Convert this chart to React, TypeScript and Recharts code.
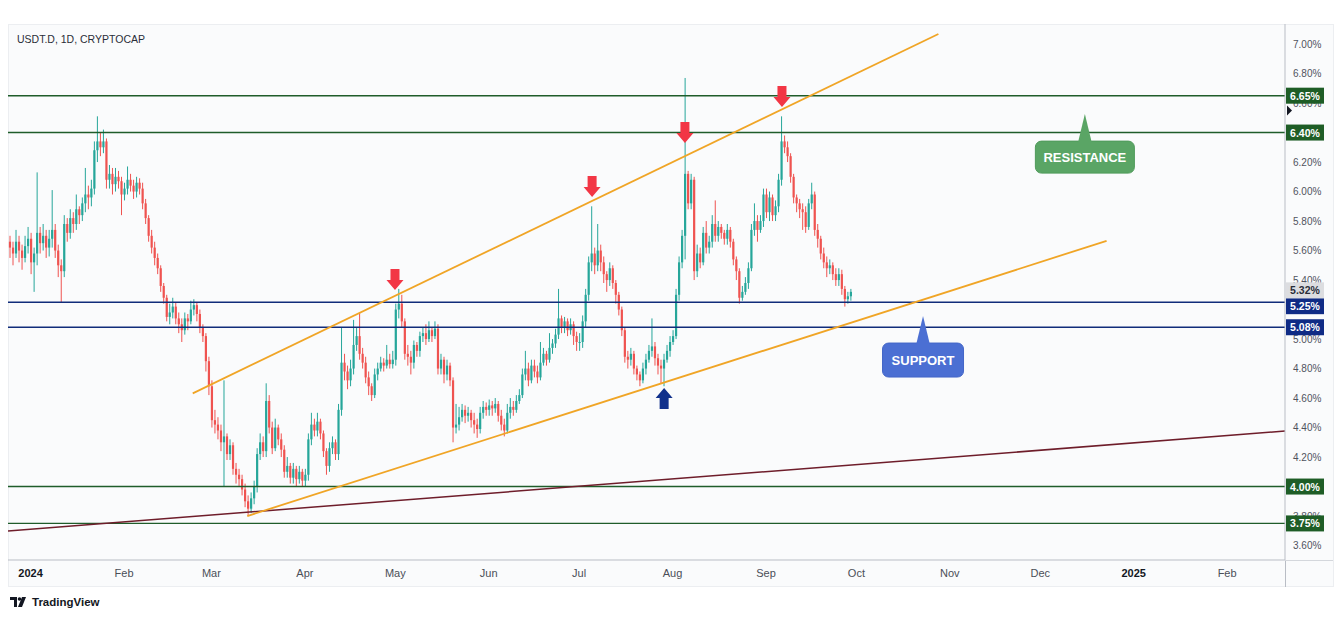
import React from 'react';
import { ComposedChart, Bar, XAxis, YAxis, ReferenceLine, ReferenceDot } from 'recharts';

// USDT.D daily candles, one row per month (first row starts 25 Dec 2023)
const monthStarts = ['2023-12-25', '2024-01-01', '2024-02-01', '2024-03-01', '2024-04-01', '2024-05-01', '2024-06-01', '2024-07-01', '2024-08-01', '2024-09-01'];
const firstOpen = 5.66;

const closes = [
  [5.62, 5.58, 5.66, 5.60, 5.55, 5.63, 5.68],
  [5.52, 5.58, 5.72, 5.65, 5.70, 5.62, 5.68, 5.74, 5.60, 5.50, 5.46, 5.78, 5.72, 5.82, 5.78, 5.88, 5.84, 5.92, 5.98, 5.96, 6.02, 6.28, 6.34, 6.30, 6.34, 6.08, 6.12, 6.05, 6.10, 6.07, 5.98],
  [6.02, 6.08, 6.04, 6.00, 6.06, 6.02, 5.92, 5.82, 5.70, 5.62, 5.55, 5.48, 5.36, 5.28, 5.15, 5.18, 5.22, 5.14, 5.10, 5.06, 5.14, 5.12, 5.20, 5.23, 5.17, 5.08, 5.02, 4.85, 4.68],
  [4.45, 4.42, 4.38, 4.30, 4.34, 4.22, 4.28, 4.12, 4.08, 4.05, 3.98, 3.90, 3.85, 3.92, 4.00, 4.22, 4.30, 4.24, 4.58, 4.40, 4.26, 4.40, 4.32, 4.25, 4.10, 4.14, 4.06, 4.12, 4.05, 4.10, 4.04],
  [4.08, 4.32, 4.42, 4.38, 4.44, 4.36, 4.24, 4.14, 4.26, 4.30, 4.22, 4.52, 4.84, 4.78, 4.72, 4.80, 4.96, 5.02, 4.90, 4.84, 4.74, 4.68, 4.62, 4.76, 4.80, 4.84, 4.82, 4.86, 4.83, 4.86],
  [5.20, 5.24, 5.12, 4.90, 4.88, 4.84, 4.96, 4.92, 5.02, 5.04, 5.00, 5.06, 5.02, 5.07, 4.80, 4.86, 4.76, 4.82, 4.72, 4.40, 4.42, 4.47, 4.52, 4.48, 4.50, 4.45, 4.42, 4.39, 4.50, 4.54, 4.52],
  [4.55, 4.53, 4.56, 4.48, 4.42, 4.38, 4.50, 4.54, 4.52, 4.58, 4.62, 4.76, 4.80, 4.72, 4.82, 4.78, 4.74, 4.84, 4.90, 4.86, 4.94, 4.97, 5.03, 5.14, 5.08, 5.12, 5.06, 5.10, 5.02, 4.98],
  [4.98, 5.12, 5.30, 5.52, 5.58, 5.50, 5.60, 5.52, 5.44, 5.40, 5.48, 5.38, 5.30, 5.20, 5.06, 4.88, 4.86, 4.90, 4.80, 4.76, 4.72, 4.80, 4.86, 4.92, 4.95, 4.87, 4.82, 4.80, 4.86, 4.92, 4.98],
  [5.02, 5.30, 5.52, 5.70, 6.12, 5.92, 6.08, 5.46, 5.58, 5.52, 5.72, 5.62, 5.66, 5.78, 5.70, 5.76, 5.72, 5.68, 5.74, 5.66, 5.54, 5.46, 5.28, 5.32, 5.38, 5.48, 5.74, 5.80, 5.74, 5.80, 5.98],
  [5.86, 5.96, 5.84, 5.90, 6.08, 6.34, 6.30, 6.24, 6.10, 5.96, 5.92, 5.88, 5.86, 5.76, 5.92, 5.98, 5.74, 5.68, 5.58, 5.52, 5.48, 5.50, 5.44, 5.40, 5.44, 5.34, 5.27, 5.29, 5.32],
];

const highs = [
  [5.70, 5.66, 5.74, 5.70, 5.64, 5.70, 5.76],
  [5.72, 5.62, 6.13, 5.76, 5.78, 5.74, 5.74, 6.01, 5.78, 5.64, 5.54, 5.84, 5.82, 5.88, 5.86, 5.98, 5.90, 5.96, 6.16, 6.04, 6.08, 6.34, 6.51, 6.40, 6.42, 6.36, 6.18, 6.16, 6.16, 6.14, 6.10],
  [6.06, 6.17, 6.12, 6.08, 6.10, 6.09, 6.06, 5.95, 5.84, 5.74, 5.66, 5.58, 5.50, 5.38, 5.30, 5.24, 5.28, 5.25, 5.18, 5.14, 5.18, 5.17, 5.26, 5.27, 5.25, 5.20, 5.10, 5.04, 4.88],
  [4.72, 4.52, 4.47, 4.42, 4.72, 4.36, 4.32, 4.30, 4.16, 4.12, 4.08, 4.02, 3.94, 3.96, 4.04, 4.26, 4.36, 4.34, 4.70, 4.62, 4.44, 4.46, 4.42, 4.36, 4.28, 4.20, 4.16, 4.16, 4.14, 4.14, 4.12],
  [4.12, 4.36, 4.50, 4.46, 4.50, 4.46, 4.38, 4.26, 4.30, 4.34, 4.32, 4.56, 5.08, 4.90, 4.82, 4.86, 5.13, 5.08, 5.18, 4.94, 4.88, 4.78, 4.70, 4.80, 4.84, 4.88, 4.87, 4.96, 4.90, 4.92],
  [5.24, 5.34, 5.30, 5.14, 4.96, 4.92, 4.99, 4.98, 5.05, 5.08, 5.10, 5.12, 5.08, 5.12, 5.10, 4.90, 4.88, 4.86, 4.84, 4.74, 4.56, 4.54, 4.56, 4.55, 4.54, 4.52, 4.50, 4.46, 4.54, 4.58, 4.57],
  [4.59, 4.58, 4.60, 4.58, 4.52, 4.46, 4.56, 4.60, 4.58, 4.62, 4.66, 4.80, 4.92, 4.84, 4.86, 4.86, 4.82, 4.98, 4.94, 4.92, 5.04, 5.00, 5.07, 5.34, 5.16, 5.15, 5.14, 5.14, 5.12, 5.05],
  [5.04, 5.16, 5.34, 5.56, 5.90, 5.62, 5.78, 5.64, 5.56, 5.46, 5.52, 5.50, 5.40, 5.32, 5.22, 5.08, 4.92, 4.94, 4.92, 4.82, 4.78, 4.84, 4.90, 4.96, 5.14, 4.98, 4.90, 4.86, 4.90, 4.96, 5.02],
  [5.06, 5.34, 5.56, 5.74, 6.77, 6.14, 6.12, 6.10, 5.64, 5.62, 5.76, 5.80, 5.70, 5.84, 5.94, 5.80, 5.78, 5.74, 5.78, 5.76, 5.68, 5.56, 5.48, 5.36, 5.42, 5.52, 5.78, 5.92, 5.84, 5.84, 6.02],
  [6.02, 6.00, 5.98, 5.94, 6.12, 6.51, 6.38, 6.34, 6.26, 6.12, 5.98, 5.95, 5.92, 5.90, 5.95, 6.06, 6.00, 5.78, 5.70, 5.62, 5.56, 5.54, 5.52, 5.48, 5.48, 5.47, 5.36, 5.32, 5.34],
];

const lows = [
  [5.55, 5.50, 5.55, 5.52, 5.47, 5.52, 5.58],
  [5.44, 5.32, 5.50, 5.58, 5.60, 5.55, 5.56, 5.62, 5.55, 5.42, 5.25, 5.42, 5.66, 5.68, 5.72, 5.74, 5.78, 5.80, 5.86, 5.88, 5.90, 5.98, 6.20, 6.24, 6.26, 6.02, 6.02, 5.98, 6.00, 6.02, 5.84],
  [5.94, 5.98, 6.00, 5.95, 5.96, 5.98, 5.88, 5.78, 5.66, 5.58, 5.50, 5.44, 5.32, 5.24, 5.12, 5.10, 5.14, 5.10, 5.04, 4.98, 5.03, 5.06, 5.10, 5.16, 5.12, 5.04, 4.98, 4.78, 4.62],
  [4.40, 4.36, 4.32, 4.24, 4.00, 4.18, 4.18, 4.08, 4.02, 4.00, 3.94, 3.86, 3.80, 3.82, 3.88, 3.96, 4.18, 4.20, 4.20, 4.36, 4.22, 4.24, 4.28, 4.20, 4.06, 4.06, 4.02, 4.02, 4.00, 4.02, 4.00],
  [4.00, 4.04, 4.28, 4.34, 4.34, 4.32, 4.20, 4.08, 4.10, 4.22, 4.18, 4.18, 4.48, 4.72, 4.66, 4.68, 4.76, 4.92, 4.86, 4.80, 4.70, 4.62, 4.58, 4.60, 4.72, 4.78, 4.78, 4.80, 4.80, 4.80],
  [4.82, 5.14, 5.08, 4.86, 4.82, 4.76, 4.80, 4.88, 4.88, 4.98, 4.96, 4.98, 4.98, 5.00, 4.76, 4.76, 4.70, 4.72, 4.68, 4.30, 4.36, 4.38, 4.44, 4.43, 4.44, 4.40, 4.36, 4.33, 4.36, 4.46, 4.48],
  [4.48, 4.48, 4.50, 4.44, 4.38, 4.34, 4.36, 4.46, 4.48, 4.50, 4.56, 4.60, 4.72, 4.68, 4.70, 4.74, 4.70, 4.72, 4.82, 4.82, 4.84, 4.90, 4.94, 5.00, 5.04, 5.04, 5.02, 5.03, 4.96, 4.92],
  [4.92, 4.94, 5.08, 5.26, 5.46, 5.44, 5.46, 5.46, 5.38, 5.32, 5.36, 5.34, 5.24, 5.16, 5.02, 4.84, 4.80, 4.82, 4.76, 4.72, 4.68, 4.70, 4.76, 4.84, 4.88, 4.82, 4.76, 4.70, 4.68, 4.84, 4.88],
  [4.96, 5.00, 5.26, 5.48, 5.54, 5.88, 5.88, 5.40, 5.42, 5.48, 5.50, 5.58, 5.58, 5.62, 5.66, 5.66, 5.68, 5.64, 5.64, 5.62, 5.50, 5.40, 5.24, 5.26, 5.30, 5.34, 5.46, 5.70, 5.66, 5.72, 5.76],
  [5.82, 5.80, 5.80, 5.80, 5.86, 6.04, 6.26, 6.20, 6.06, 5.92, 5.86, 5.82, 5.74, 5.72, 5.74, 5.88, 5.70, 5.62, 5.54, 5.48, 5.42, 5.44, 5.40, 5.36, 5.36, 5.30, 5.22, 5.24, 5.26],
];

// time axis: days counted from 1 Jan 2024
const tickDays = [0, 31, 60, 91, 121, 152, 182, 213, 244, 274, 305, 335, 366, 397];
const tickLabels = ['2024', 'Feb', 'Mar', 'Apr', 'May', 'Jun', 'Jul', 'Aug', 'Sep', 'Oct', 'Nov', 'Dec', '2025', 'Feb'];
// price scale labels that stay visible next to the level tags
const priceTicks = [3.6, 3.8, 4.2, 4.4, 4.6, 4.8, 5.0, 5.4, 5.6, 5.8, 6.0, 6.2, 6.6, 6.8, 7.0];

const resistanceLevels = [6.65, 6.4, 4.0, 3.75];
const supportLevels = [5.25, 5.08];
const lastPrice = 5.32;
const markerPrice = 6.55;

// drawn lines: [day, price] endpoints
const upperChannel = [[53.8, 4.632], [301.2, 7.068]];
const lowerChannel = [[71.9, 3.8], [357.0, 5.666]];
const longTrend = [[-7.5, 3.699], [416.2, 4.376]];

// annotations: [day, price] of the tip
const downArrows = [[120.9, 5.332], [186.3, 5.963], [217.1, 6.329], [249.3, 6.573]];
const upArrows = [[210.2, 4.668]];
const resistanceCallout = [349.8, 6.525];
const supportCallout = [296.1, 5.156];

const UP = '#26a69a';
const DOWN = '#ef5350';
const GREEN_LINE = '#1f5c2a';
const NAVY_LINE = '#102c7a';
const FONT = "'Liberation Sans', Arial, sans-serif";

const DAY = 86400000;
const base = Date.UTC(2024, 0, 1);
const rows: any[] = [];
let prevClose = firstOpen;
monthStarts.forEach((s, m) => {
  const t0 = Math.round((Date.parse(s) - base) / DAY);
  closes[m].forEach((c, j) => {
    const hi = Math.max(highs[m][j] ?? c, prevClose, c);
    const lo = Math.min(lows[m][j] ?? c, prevClose, c);
    rows.push({ t: t0 + j, open: prevClose, close: c, high: hi, low: lo, range: [lo, hi] });
    prevClose = c;
  });
});

// tags drawn after the plain labels so they sit on top of them
const tagStyle: Record<string, { bg: string; fg: string; nudge: number }> = {};
resistanceLevels.forEach((v) => (tagStyle[v.toFixed(2)] = { bg: '#1e5d26', fg: '#fff', nudge: 0 }));
supportLevels.forEach((v) => (tagStyle[v.toFixed(2)] = { bg: '#0f2b85', fg: '#fff', nudge: 0 }));
tagStyle['5.25'].nudge = 4; // pushed down like TradingView does when tags collide
tagStyle[lastPrice.toFixed(2)] = { bg: '#dcdde0', fg: '#2a2e39', nudge: -1.5 };
const yTicks = [...priceTicks, markerPrice, ...supportLevels, ...resistanceLevels, lastPrice];

function Candle(props: any) {
  const { x, y, width, height, payload } = props;
  if (!payload || y == null || height == null) return null;
  const { open, close, high, low } = payload;
  const span = high - low || 1e-9;
  const py = (v: number) => y + ((high - v) / span) * height;
  const cx = x + width / 2;
  const color = close >= open ? UP : DOWN;
  const top = py(Math.max(open, close));
  const bot = py(Math.min(open, close));
  return (
    <g>
      <line x1={cx} x2={cx} y1={py(high)} y2={py(low)} stroke={color} strokeWidth={1} />
      <rect x={cx - 1.1} y={top} width={2.2} height={Math.max(1, bot - top)} fill={color} />
    </g>
  );
}

function YTick(props: any) {
  const { x, y, payload } = props;
  const v = payload.value as number;
  const axisX = x - 8;
  if (v === markerPrice) {
    return <path d={`M${axisX + 2},${y - 5} L${axisX + 7},${y} L${axisX + 2},${y + 5} Z`} fill="#131722" />;
  }
  const key = v.toFixed(2);
  const tag = priceTicks.includes(v) ? undefined : tagStyle[key];
  if (tag) {
    const cy = y + tag.nudge;
    return (
      <g>
        <rect x={axisX + 1} y={cy - 8} width={38} height={16} fill={tag.bg} />
        <text x={axisX + 20} y={cy + 4} textAnchor="middle" fill={tag.fg} fontSize={10.5} fontWeight={700} fontFamily={FONT}>
          {`${key}%`}
        </text>
      </g>
    );
  }
  return (
    <text x={axisX + 8} y={y + 3.5} fontSize={10} fill="#50535e" fontFamily={FONT}>
      {`${key}%`}
    </text>
  );
}

function ArrowShape(props: any) {
  const { cx, cy, dir, color } = props;
  const s = dir === 'down' ? -1 : 1;
  const head = 10;
  const total = 21;
  const d = [
    `M${cx},${cy}`,
    `L${cx + 8.5},${cy + s * head}`,
    `L${cx + 4.5},${cy + s * head}`,
    `L${cx + 4.5},${cy + s * total}`,
    `L${cx - 4.5},${cy + s * total}`,
    `L${cx - 4.5},${cy + s * head}`,
    `L${cx - 8.5},${cy + s * head}`,
    'Z',
  ].join(' ');
  return <path d={d} fill={color} />;
}

function CalloutShape(props: any) {
  const { cx, cy, text, fill, stroke, w, h } = props;
  const gap = 27;
  const top = cy + gap;
  return (
    <g>
      <rect x={cx - w / 2} y={top} width={w} height={h} rx={6} fill={fill} stroke={stroke} strokeWidth={1} />
      <path d={`M${cx},${cy} L${cx + 7},${top + 2} L${cx - 7},${top + 2} Z`} fill={fill} />
      <text x={cx} y={top + h / 2 + 4.5} textAnchor="middle" fill="#fff" fontSize={13} fontWeight={700}
        fontFamily="'Liberation Sans Narrow', 'Liberation Sans', Arial, sans-serif">
        {text}
      </text>
    </g>
  );
}

function XTick(props: any) {
  const { x, y, payload } = props;
  const i = tickDays.indexOf(payload.value);
  const label = tickLabels[i] ?? '';
  const bold = /^\d{4}$/.test(label);
  return (
    <text x={x} y={y + 9} textAnchor="middle" fontSize={11} fontWeight={bold ? 700 : 400}
      fill={bold ? '#131722' : '#4a4e57'} fontFamily={FONT}>
      {label}
    </text>
  );
}

export default function App() {
  return (
    <div style={{ position: 'absolute', left: 0, top: 0, width: 1343, height: 619, background: '#fff', overflow: 'hidden' }}>
      <div style={{ position: 'absolute', left: 8, top: 24, width: 1326, height: 563, background: '#fafbfc', border: '1px solid #eceef1', boxSizing: 'border-box' }} />
      <div style={{ position: 'absolute', left: 8, top: 24 }}>
        <ComposedChart width={1326} height={563} data={rows} margin={{ top: 0, right: 0, bottom: 0, left: 0 }}>
          <XAxis dataKey="t" type="number" domain={[-7.5, 416.2]} allowDataOverflow ticks={tickDays}
            tick={<XTick />} tickLine={false} axisLine={{ stroke: '#b9bdc5' }} height={27} interval={0} />
          <YAxis orientation="right" type="number" domain={[3.502, 7.136]} allowDataOverflow ticks={yTicks}
            tick={<YTick />} tickLine={false} axisLine={{ stroke: '#b9bdc5' }} width={49} interval={0} />

          {resistanceLevels.map((v) => (
            <ReferenceLine key={`r${v}`} y={v} stroke={GREEN_LINE} strokeWidth={1.4} ifOverflow="visible" />
          ))}
          {supportLevels.map((v) => (
            <ReferenceLine key={`s${v}`} y={v} stroke={NAVY_LINE} strokeWidth={1.4} ifOverflow="visible" />
          ))}

          <ReferenceLine segment={[{ x: longTrend[0][0], y: longTrend[0][1] }, { x: longTrend[1][0], y: longTrend[1][1] }]}
            stroke="#6e1d2a" strokeWidth={1.5} ifOverflow="visible" />
          <ReferenceLine segment={[{ x: upperChannel[0][0], y: upperChannel[0][1] }, { x: upperChannel[1][0], y: upperChannel[1][1] }]}
            stroke="#f0a526" strokeWidth={1.8} ifOverflow="visible" />
          <ReferenceLine segment={[{ x: lowerChannel[0][0], y: lowerChannel[0][1] }, { x: lowerChannel[1][0], y: lowerChannel[1][1] }]}
            stroke="#f0a526" strokeWidth={1.8} ifOverflow="visible" />

          <Bar dataKey="range" shape={<Candle />} isAnimationActive={false} barSize={2} />

          {downArrows.map(([d, p], i) => (
            <ReferenceDot key={`d${i}`} x={d} y={p} ifOverflow="visible" shape={(sp: any) => <ArrowShape {...sp} dir="down" color="#f23645" />} />
          ))}
          {upArrows.map(([d, p], i) => (
            <ReferenceDot key={`u${i}`} x={d} y={p} ifOverflow="visible" shape={(sp: any) => <ArrowShape {...sp} dir="up" color="#11318c" />} />
          ))}
          <ReferenceDot x={resistanceCallout[0]} y={resistanceCallout[1]} ifOverflow="visible"
            shape={(sp: any) => <CalloutShape {...sp} text="RESISTANCE" fill="#5aa565" stroke="#4f9a5a" w={99} h={32} />} />
          <ReferenceDot x={supportCallout[0]} y={supportCallout[1]} ifOverflow="visible"
            shape={(sp: any) => <CalloutShape {...sp} text="SUPPORT" fill="#4b6fd3" stroke="#4366c8" w={81} h={34} />} />
        </ComposedChart>
      </div>
      <div style={{ position: 'absolute', left: 1285, top: 560, width: 1, height: 27, background: '#b9bdc5' }} />
      <div style={{ position: 'absolute', left: 1285, top: 560, width: 48, height: 1, background: '#d4d7dc' }} />
      <div style={{ position: 'absolute', left: 17, top: 33, fontFamily: FONT, fontSize: 10.5, color: '#2a2e39' }}>
        USDT.D, 1D, CRYPTOCAP
      </div>
      <div style={{ position: 'absolute', left: 10, top: 596, display: 'flex', alignItems: 'center', gap: 4, fontFamily: FONT }}>
        <svg width={18} height={12} viewBox="0 0 18 12">
          <path d="M0 1 H7 V11 H4 V4 H0 Z" fill="#131722" />
          <circle cx={9.5} cy={3} r={1.8} fill="#131722" />
          <path d="M12 1 H16 L12 11 H8 Z" fill="#131722" />
        </svg>
        <span style={{ fontSize: 11.5, color: '#131722', fontWeight: 600 }}>TradingView</span>
      </div>
    </div>
  );
}
